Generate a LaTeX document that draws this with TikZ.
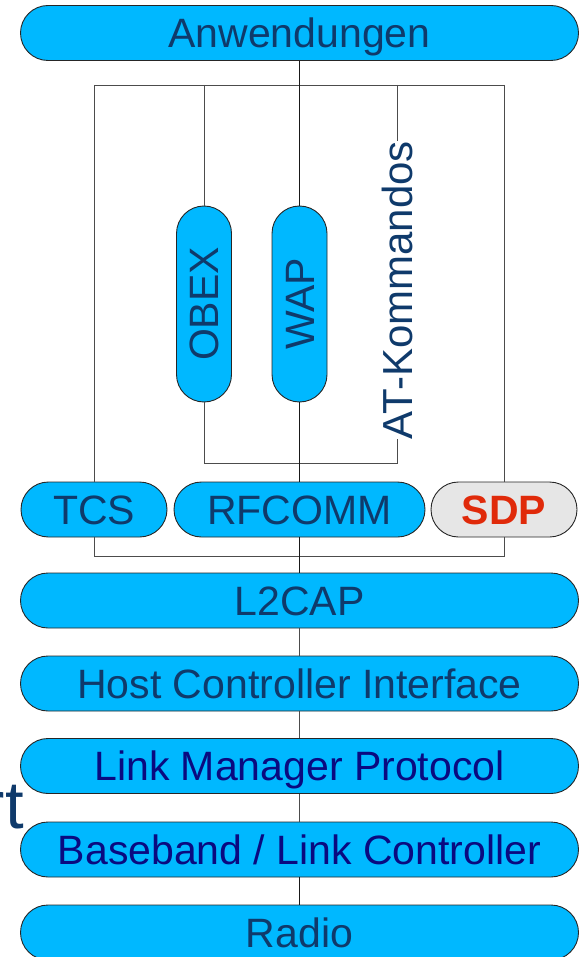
\documentclass[tikz,border=0pt]{standalone}
\usepackage{fontspec}
\setmainfont{Liberation Sans}
\begin{document}
\begin{tikzpicture}[x=1pt,y=-1pt,
  layer/.style={draw=black!85, line width=0.9pt, fill=skyfill, rounded corners=27.5pt,
    minimum height=55pt, inner sep=0pt, text=navytext,
    text height=29.4pt, text depth=0pt,
    font=\fontsize{41}{48}\selectfont},
  fullrow/.style={layer, minimum width=558pt},
  wire/.style={draw=black!70, line width=0.9pt},
  mainwire/.style={draw=black!90, line width=1pt}]
\definecolor{skyfill}{HTML}{00B8FF}
\definecolor{navytext}{HTML}{0F3A6B}
\definecolor{deepnavy}{HTML}{0A0A80}
\definecolor{sdpfill}{HTML}{E6E6E6}
\definecolor{sdptext}{HTML}{E02A0A}
\useasboundingbox (0,0) rectangle (579,957);

% protocol stack
\node[fullrow] (app)   at (299.5,33)  {Anwendungen};
\node[layer, rotate=90, minimum width=196pt] (obex) at (204,304) {OBEX};
\node[layer, rotate=90, minimum width=196pt] (wap)  at (299.5,304) {WAP};
\node[text=navytext, inner sep=0pt, rotate=90, font=\fontsize{42}{48}\selectfont]
  (at) at (397,290) {AT-Kommandos};
\node[layer, minimum width=146pt] (tcs) at (94,509.5)   {TCS};
\node[layer, minimum width=251pt] (rfc) at (299.5,509.5) {RFCOMM};
\node[layer, minimum width=146pt, fill=sdpfill, text=sdptext,
      font=\fontsize{41}{48}\selectfont\bfseries] (sdp) at (504,509.5) {SDP};
\node[fullrow] (l2cap) at (299.5,600.5) {L2CAP};
\node[fullrow] (hci)   at (299.5,683.5) {Host Controller Interface};
\node[fullrow, text=deepnavy] (lmp) at (299.5,766) {Link Manager Protocol};
\node[fullrow, text=deepnavy] (bb)  at (299.5,849.5) {Baseband / Link Controller};
\node[fullrow] (radio) at (299.5,932.5) {Radio};

% partly hidden caption at the left edge
\node[text=navytext, inner sep=0pt, anchor=base east,
      font=\fontsize{67}{70}\selectfont] (cap) at (24,828) {rt};

% junction points
\coordinate (jtop) at (299.5,85);
\coordinate (jl)   at (94,85);
\coordinate (jo)   at (204,85);
\coordinate (jat)  at (397,85);
\coordinate (jr)   at (504,85);
\coordinate (bl)   at (94,556);
\coordinate (br)   at (504,556);
\coordinate (mo)   at (204,463);
\coordinate (mw)   at (299.5,463);
\coordinate (ma)   at (397,463);

% wiring
\draw[mainwire] (app.south) -- (jtop);
\draw[wire] (jl) -- (jr);
\draw[wire] (jl) -- (tcs.north);
\draw[wire] (jr) -- (sdp.north);
\draw[wire] (tcs.south) -- (bl) -- (br) -- (sdp.south);
\draw[wire] (jo) -- (obex.east);
\draw[mainwire] (jtop) -- (wap.east);
\draw[wire] (jat) -- (at.east);
\draw[wire] (obex.west) -- (mo) -- (ma) -- (at.west);
\draw[mainwire] (wap.west) -- (mw) -- (rfc.north);
\draw[mainwire] (rfc.south) -- (l2cap.north);
\draw[wire] (l2cap.south) -- (hci.north);
\draw[wire] (hci.south) -- (lmp.north);
\draw[wire] (lmp.south) -- (bb.north);
\draw[mainwire] (bb.south) -- (radio.north);
\end{tikzpicture}
\end{document}
